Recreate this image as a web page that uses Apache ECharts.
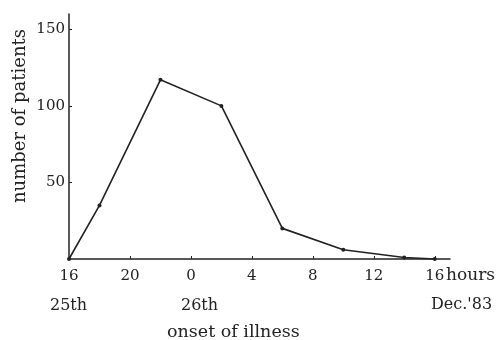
<!DOCTYPE html>
<html>
<head>
<meta charset="utf-8">
<script src="https://cdn.jsdelivr.net/npm/echarts@6/dist/echarts.min.js"></script>
<style>
	html, body { margin: 0; padding: 0; background: #fff; }
	#main { width: 499px; height: 340px; }
</style>
</head>
<body>
<div id="main"></div>
<script>
// hours counted from 16:00 on the 25th
var hours = [0, 2, 6, 10, 14, 18, 22, 24];
var patients = [0, 35, 117, 100, 20, 6, 1, 0];
var xTicks = [0, 4, 8, 12, 16, 20, 24];
var xTickLabels = ['16', '20', '0', '4', '8', '12', '16'];
var yTicks = [50, 100, 150];

var font = '"DejaVu Serif", "Liberation Serif", serif';
var ink = '#222';

var chart = echarts.init(document.getElementById('main'));

var points = [];
for (var i = 0; i < hours.length; i++) {
	points.push([hours[i], patients[i]]);
}

var option = {
	animation: false,
	backgroundColor: '#fff',
	grid: {
		left: 69,
		right: 49,
		top: 14,
		bottom: 81
	},
	xAxis: {
		type: 'value',
		min: 0,
		max: 25,
		splitLine: { show: false },
		axisLine: { lineStyle: { color: ink, width: 1.5 } },
		axisTick: {
			inside: true,
			length: 3,
			customValues: xTicks,
			lineStyle: { color: ink }
		},
		axisLabel: {
			customValues: xTicks,
			margin: 10,
			color: ink,
			fontFamily: font,
			fontSize: 15,
			formatter: function(v) {
				var idx = xTicks.indexOf(v);
				return idx >= 0 ? xTickLabels[idx] : '';
			}
		}
	},
	yAxis: {
		type: 'value',
		min: 0,
		max: 160,
		splitLine: { show: false },
		axisLine: { show: true, lineStyle: { color: ink, width: 1.5 } },
		axisTick: {
			show: true,
			inside: true,
			length: 3,
			customValues: yTicks,
			lineStyle: { color: ink }
		},
		axisLabel: {
			customValues: yTicks,
			margin: 4,
			color: ink,
			fontFamily: font,
			fontSize: 15
		}
	},
	graphic: [{
		type: 'text',
		left: 446,
		top: 267,
		style: { text: 'hours', fill: ink, font: '17px ' + font }
	}, {
		type: 'text',
		left: 431,
		top: 297,
		style: { text: "Dec.'83", fill: ink, font: '16px ' + font }
	}, {
		type: 'text',
		left: 50,
		top: 298,
		style: { text: '25th', fill: ink, font: '16px ' + font }
	}, {
		type: 'text',
		left: 181,
		top: 298,
		style: { text: '26th', fill: ink, font: '16px ' + font }
	}, {
		type: 'text',
		left: 167,
		top: 323,
		style: { text: 'onset of illness', fill: ink, font: '17.5px ' + font }
	}, {
		type: 'text',
		x: 20,
		y: 116,
		rotation: Math.PI / 2,
		style: {
			text: 'number of patients',
			fill: ink,
			font: '18px ' + font,
			align: 'center',
			verticalAlign: 'middle'
		}
	}],
	series: [{
		type: 'line',
		data: points,
		symbol: 'circle',
		symbolSize: 4,
		lineStyle: { color: ink, width: 1.6 },
		itemStyle: { color: ink }
	}]
};

chart.setOption(option);
</script>
</body>
</html>
